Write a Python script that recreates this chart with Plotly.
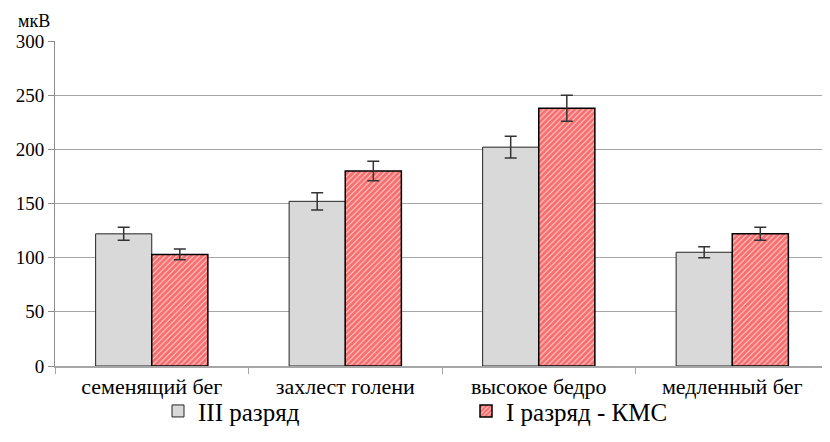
import plotly.graph_objects as go

categories = ["семенящий бег", "захлест голени", "высокое бедро", "медленный бег"]
series_names = ["III разряд", "I разряд - КМС"]
vals_iii = [122, 152, 202, 105]
err_iii = [6, 8, 10, 5]
vals_i = [103, 180, 238, 122]
err_i = [5, 9, 12, 6]
y_ticks = [0, 50, 100, 150, 200, 250, 300]

FONT = "serif"

fig = go.Figure()
fig.add_trace(go.Bar(
    name=series_names[0], x=categories, y=vals_iii,
    marker=dict(color="#d9d9d9", line=dict(color="#222222", width=1)),
    error_y=dict(type="data", array=err_iii, color="#333333", thickness=1.5, width=6),
))
fig.add_trace(go.Bar(
    name=series_names[1], x=categories, y=vals_i,
    marker=dict(color="#ff0000", line=dict(color="#000000", width=1.5),
                pattern=dict(shape="/", fgcolor="#f00000", bgcolor="#ffd8d8",
                             size=4, solidity=0.75)),
    error_y=dict(type="data", array=err_i, color="#333333", thickness=1.5, width=6),
))

W, H = 822, 434
fig.update_layout(
    width=W, height=H,
    margin=dict(l=47, r=1, t=33, b=76, autoexpand=False),
    plot_bgcolor="white", paper_bgcolor="white",
    barmode="group", bargap=0.42, bargroupgap=0,
    font=dict(family=FONT, size=19, color="black"),
    showlegend=True,
    legend=dict(orientation="h", x=150 / W, xref="container", xanchor="left",
                y=0.018, yref="container", yanchor="bottom", bgcolor="rgba(0,0,0,0)",
                font=dict(family=FONT, size=25), entrywidth=263, entrywidthmode="pixels",
                itemwidth=30, traceorder="normal"),
    annotations=[dict(text="мкВ", x=0, y=1, xref="paper", yref="paper",
                      xanchor="right", yanchor="bottom", xshift=-3, yshift=8,
                      showarrow=False, font=dict(family=FONT, size=18))],
)
fig.update_yaxes(range=[0, 300], tickvals=y_ticks, showgrid=True, gridcolor="#a6a6a6",
                 gridwidth=1, showline=True, linecolor="#8c8c8c", linewidth=1,
                 ticks="outside", ticklen=6, tickcolor="#8c8c8c",
                 tickfont=dict(family=FONT, size=19), zeroline=False)
fig.update_xaxes(showline=True, linecolor="#a6a6a6", linewidth=1.5,
                 ticks="outside", tickson="boundaries", ticklen=6, tickcolor="#a6a6a6",
                 tickfont=dict(family=FONT, size=22))

fig.write_html("out.html")
